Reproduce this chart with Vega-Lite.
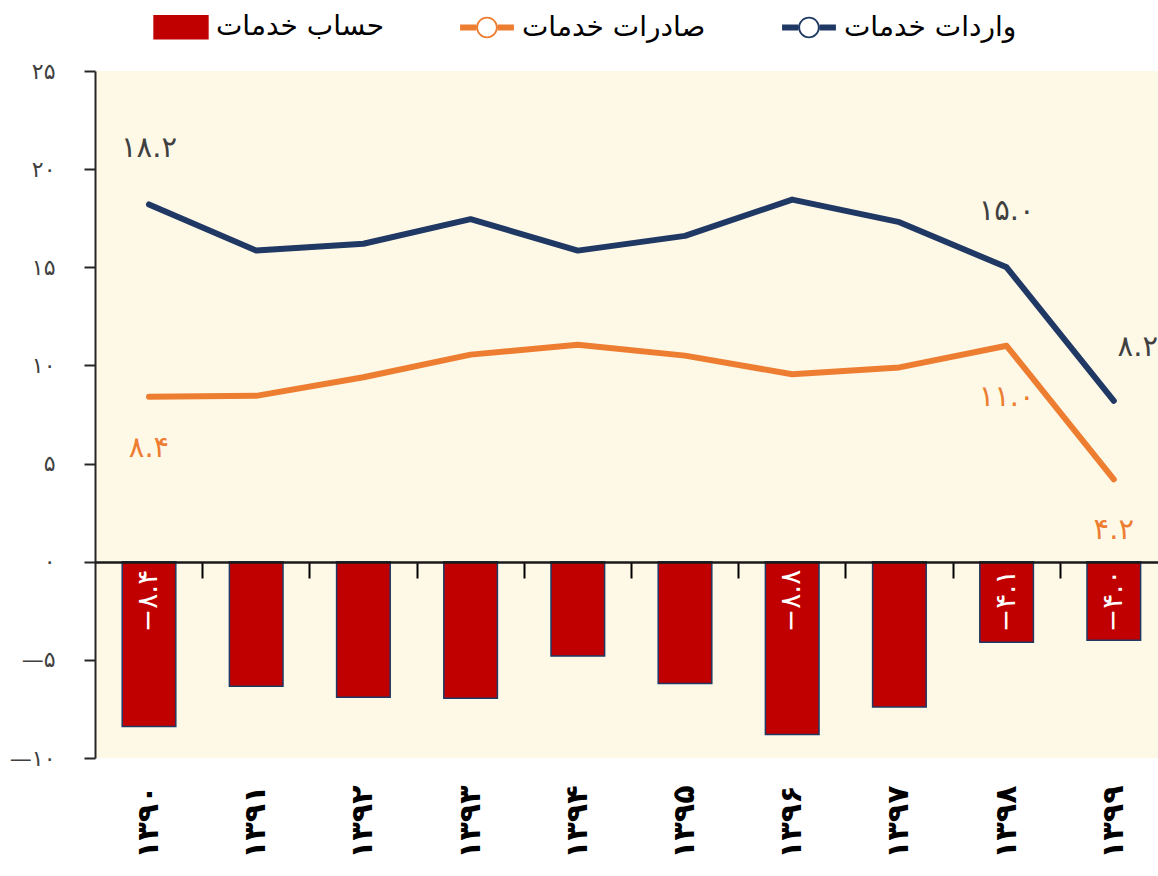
{
  "$schema": "https://vega.github.io/schema/vega-lite/v6.json",
  "width": 1063,
  "height": 687,
  "autosize": {"type": "none"},
  "padding": {"left": 95, "top": 71, "right": 0, "bottom": 118},
  "background": "white",
  "config": {
    "font": "DejaVu Sans",
    "view": {"fill": "#FEF8E7", "stroke": null},
    "axisY": {
      "tickSize": 11,
      "labelPadding": 29,
      "domainColor": "#262626",
      "domainWidth": 2,
      "tickColor": "#262626",
      "tickWidth": 2,
      "labelFontSize": 22,
      "labelColor": "#404040",
      "grid": false
    },
    "legend": {
      "orient": "none", "legendX": 72, "legendY": -58, "direction": "horizontal",
      "labelFontSize": 28, "labelFont": "DejaVu Sans", "labelColor": "#000000", "labelOffset": 21, "labelLimit": 400,
      "symbolSize": 2900, "columnPadding": 76
    }
  },
  "data": {
    "values": [
      {"year": "۱۳۹۰", "imports": 18.2, "exports": 8.4, "balance": -8.4, "impLabel": "۱۸.۲", "expLabel": "۸.۴", "balLabel": "−۸.۴"},
      {"year": "۱۳۹۱", "imports": 15.85, "exports": 8.45, "balance": -6.35},
      {"year": "۱۳۹۲", "imports": 16.2, "exports": 9.4, "balance": -6.9},
      {"year": "۱۳۹۳", "imports": 17.45, "exports": 10.55, "balance": -6.95},
      {"year": "۱۳۹۴", "imports": 15.85, "exports": 11.05, "balance": -4.8},
      {"year": "۱۳۹۵", "imports": 16.6, "exports": 10.5, "balance": -6.2},
      {"year": "۱۳۹۶", "imports": 18.45, "exports": 9.55, "balance": -8.8, "balLabel": "−۸.۸"},
      {"year": "۱۳۹۷", "imports": 17.3, "exports": 9.9, "balance": -7.4},
      {"year": "۱۳۹۸", "imports": 15.0, "exports": 11.0, "balance": -4.1, "impLabel": "۱۵.۰", "expLabel": "۱۱.۰", "balLabel": "−۴.۱"},
      {"year": "۱۳۹۹", "imports": 8.2, "exports": 4.2, "balance": -4.0, "impLabel": "۸.۲", "expLabel": "۴.۲", "balLabel": "−۴.۰"}
    ]
  },
  "resolve": {"axis": {"x": "independent"}},
  "layer": [
    {
      "mark": {"type": "bar", "stroke": "#1F3864", "strokeWidth": 1.5, "opacity": 1},
      "encoding": {
        "x": {
          "field": "year", "type": "nominal", "sort": null,
          "scale": {"paddingInner": 0.5, "paddingOuter": 0.208, "align": 0.61},
          "axis": {"orient": "bottom", "offset": -196, "labels": false, "title": null, "domainColor": "#1a1a1a", "domainWidth": 2.5, "bandPosition": 1.5, "tickSize": 16, "tickWidth": 2, "tickColor": "#000000", "zindex": 1}
        },
        "y": {
          "field": "balance", "type": "quantitative", "title": null,
          "scale": {"domain": [-10, 25], "nice": false, "zero": false},
          "axis": {
            "values": [-10, -5, 0, 5, 10, 15, 20, 25],
            "labelExpr": "replace(replace(replace(replace(replace(replace(datum.label,'0','۰'),'1','۱'),'2','۲'),'5','۵'),'-','−'),'−','—')",
            "title": null
          }
        },
        "color": {
          "datum": "balance",
          "scale": {"domain": ["balance", "exports", "imports"], "range": ["#C00000", "#ED7D31", "#1F3864"]},
          "legend": {
            "title": null,
            "labelExpr": "datum.value == 'balance' ? 'حساب خدمات' : datum.value == 'exports' ? 'صادرات خدمات' : 'واردات خدمات'",
            "encode": {"symbols": {"update": {
              "shape": {"signal": "datum.value === 'balance' ? 'M-1,-0.43H1V0.43H-1Z' : 'M-1,-0.11H-0.4V0.11H-1Z M0.4,-0.11H1V0.11H0.4Z M-0.4,0A0.4,0.4 0 1,1 0.4,0A0.4,0.4 0 1,1 -0.4,0Z M-0.33,0A0.33,0.33 0 1,0 0.33,0A0.33,0.33 0 1,0 -0.33,0Z'"},
              "fill": {"signal": "datum.value === 'balance' ? '#C00000' : datum.value === 'exports' ? '#ED7D31' : '#1F3864'"},
              "stroke": {"signal": "datum.value === 'balance' ? '#1F3864' : 'transparent'"},
              "strokeWidth": {"signal": "datum.value === 'balance' ? 1.5 : 0"},
              "opacity": {"value": 1}
            }}}
          }
        }
      }
    },
    {
      "transform": [{"fold": ["imports", "exports"], "as": ["key", "value"]}],
      "mark": {"type": "line", "strokeWidth": 6, "strokeCap": "round", "strokeJoin": "round"},
      "encoding": {
        "x": {
          "field": "year", "type": "nominal", "sort": null,
          "axis": {"orient": "bottom", "domain": false, "ticks": false, "labelAngle": 270, "labelFontSize": 30, "labelFontWeight": "bold", "labelColor": "#000000", "labelPadding": 27, "title": null, "labelFont": "DejaVu Sans"}
        },
        "y": {"field": "value", "type": "quantitative", "title": null},
        "color": {
          "field": "key", "type": "nominal",
          "legend": {
            "title": null,
            "labelExpr": "datum.value == 'balance' ? 'حساب خدمات' : datum.value == 'exports' ? 'صادرات خدمات' : 'واردات خدمات'",
            "encode": {"symbols": {"update": {
              "shape": {"signal": "datum.value === 'balance' ? 'M-1,-0.43H1V0.43H-1Z' : 'M-1,-0.11H-0.4V0.11H-1Z M0.4,-0.11H1V0.11H0.4Z M-0.4,0A0.4,0.4 0 1,1 0.4,0A0.4,0.4 0 1,1 -0.4,0Z M-0.33,0A0.33,0.33 0 1,0 0.33,0A0.33,0.33 0 1,0 -0.33,0Z'"},
              "fill": {"signal": "datum.value === 'balance' ? '#C00000' : datum.value === 'exports' ? '#ED7D31' : '#1F3864'"},
              "stroke": {"signal": "datum.value === 'balance' ? '#1F3864' : 'transparent'"},
              "strokeWidth": {"signal": "datum.value === 'balance' ? 1.5 : 0"},
              "opacity": {"value": 1}
            }}}
          }
        }
      }
    },
    {
      "transform": [{"filter": "isValid(datum.impLabel) && datum.year != '۱۳۹۹'"}],
      "mark": {"type": "text", "dy": -56, "fontSize": 29, "color": "#404040", "baseline": "middle"},
      "encoding": {
        "x": {"field": "year", "type": "nominal", "sort": null, "axis": null},
        "y": {"field": "imports", "type": "quantitative", "title": null},
        "text": {"field": "impLabel"}
      }
    },
    {
      "transform": [{"filter": "datum.year == '۱۳۹۹'"}],
      "mark": {"type": "text", "dy": -54, "dx": 24, "fontSize": 29, "color": "#404040", "baseline": "middle"},
      "encoding": {
        "x": {"field": "year", "type": "nominal", "sort": null, "axis": null},
        "y": {"field": "imports", "type": "quantitative", "title": null},
        "text": {"field": "impLabel"}
      }
    },
    {
      "transform": [{"filter": "isValid(datum.expLabel)"}],
      "mark": {"type": "text", "dy": 51, "fontSize": 29, "color": "#ED7D31", "baseline": "middle"},
      "encoding": {
        "x": {"field": "year", "type": "nominal", "sort": null, "axis": null},
        "y": {"field": "exports", "type": "quantitative", "title": null},
        "text": {"field": "expLabel"}
      }
    },
    {
      "transform": [{"filter": "isValid(datum.balLabel)"}],
      "mark": {"type": "text", "angle": 270, "align": "right", "baseline": "middle", "dx": -8, "fontSize": 28, "color": "white"},
      "encoding": {
        "x": {"field": "year", "type": "nominal", "sort": null, "axis": null},
        "y": {"datum": 0, "type": "quantitative", "title": null},
        "text": {"field": "balLabel"}
      }
    }
  ]
}
